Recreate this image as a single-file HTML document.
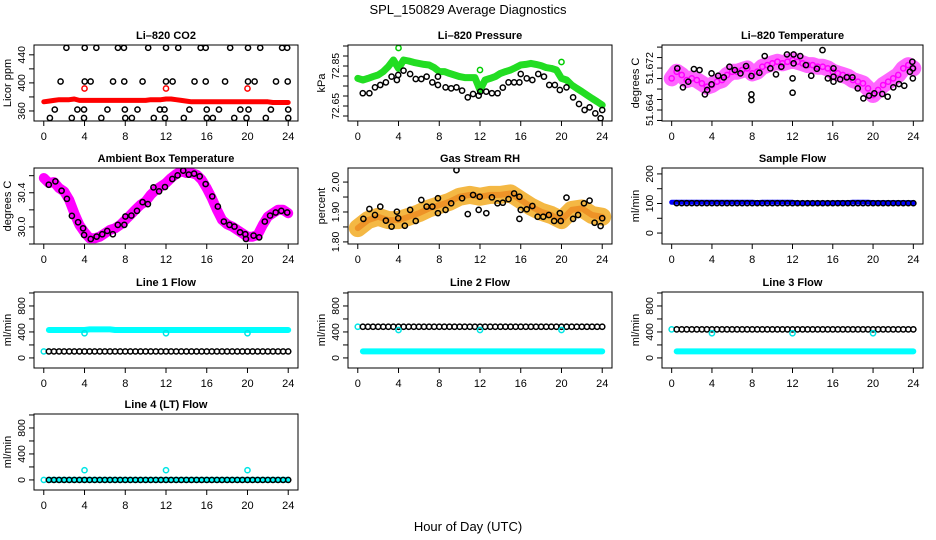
<!DOCTYPE html>
<html><head><meta charset="utf-8"><style>
html,body{margin:0;padding:0;background:#fff;}
svg{display:block;font-family:"Liberation Sans",sans-serif;}
</style></head><body>
<svg id="chart" width="936" height="540" viewBox="0 0 936 540" xmlns="http://www.w3.org/2000/svg">
<rect x="0" y="0" width="936" height="540" fill="#fff"/>
<text x="468" y="14" text-anchor="middle" font-size="13">SPL_150829  Average Diagnostics</text>
<text x="468" y="531" text-anchor="middle" font-size="13">Hour of Day (UTC)</text>
</svg>
<script>
const hoursHalf = [0,0.5,1,1.5,2,2.5,3,3.5,4,4.5,5,5.5,6,6.5,7,7.5,8,8.5,9,9.5,10,10.5,11,11.5,12,12.5,13,13.5,14,14.5,15,15.5,16,16.5,17,17.5,18,18.5,19,19.5,20,20.5,21,21.5,22,22.5,23,23.5,24];
const hoursHour = [0,1,2,3,4,5,6,7,8,9,10,11,12,13,14,15,16,17,18,19,20,21,22,23,24];
const xTicks = [0,4,8,12,16,20,24];

// CO2
const co2Red = [373,374,375,376,376,376,377,375,375,375,375,375,375,375,375,375,375,375,375,375,375,376,376,376,377,377,376,375,374,373,373,373,373,373,373,373,373,373,373,373,373,373,373,373,373,372,372,372,372];
const co2RedOutX = [4,12,20];
const co2RedOutY = [392,392,392];
const co2BlackX = [2.22,4.02,5.16,7.28,7.87,10.25,12.0,13.2,15.4,15.9,18.3,20.05,21.25,23.4,23.9, 1.65,4.02,4.6,6.8,7.9,9.7,12.0,12.65,14.8,15.9,17.8,20.05,20.7,22.8,23.95, 1.08,3.3,3.95,6.25,7.96,9.2,11.4,11.85,14.3,16.0,17.2,19.3,20.1,22.3,24.0, 0.6,2.75,3.95,5.65,8.0,8.65,10.8,11.9,13.75,16.0,16.6,18.7,19.9,21.8,24.0];
const co2BlackY = [450,450,450,450,450,450,450,450,450,450,450,450,450,450,450, 402,402,402,402,402,402,402,402,402,402,402,402,402,402,402, 362,362,362,362,362,362,362,362,362,362,362,362,362,362,362, 350,350,350,350,350,350,350,350,350,350,350,350,350,350,350];

// Pressure
const presGreen = [72.788,72.78,72.788,72.797,72.805,72.822,72.847,72.88,72.838,72.88,72.875,72.868,72.863,72.858,72.855,72.842,72.822,72.822,72.813,72.805,72.797,72.792,72.792,72.792,72.73,72.78,72.788,72.797,72.813,72.822,72.83,72.842,72.855,72.858,72.863,72.858,72.852,72.842,72.838,72.83,72.788,72.78,72.755,72.738,72.722,72.705,72.688,72.672,72.655];
const presGreenOutX = [4,20,12];
const presGreenOutY = [72.94,72.87,72.83];
const presBlackX = [0.49,1.14,1.69,2.21,2.76,3.32,3.84,3.97,4.49,5.14,5.69,6.24,6.76,7.32,7.87,7.87,8.62,9.17,9.69,10.24,10.8,11.32,11.87,12.03,12.61,13.17,13.73,14.24,14.8,15.35,15.87,16.0,16.59,17.14,17.72,18.28,18.8,19.35,19.84,20.49,21.14,21.72,22.27,22.76,23.32,23.84,24.0];
const presBlackY = [72.714,72.714,72.743,72.755,72.768,72.797,72.78,72.805,72.827,72.81,72.785,72.785,72.797,72.768,72.755,72.797,72.743,72.738,72.743,72.727,72.693,72.71,72.702,72.722,72.722,72.714,72.714,72.742,72.768,72.768,72.768,72.81,72.788,72.78,72.81,72.797,72.755,72.755,72.73,72.743,72.693,72.66,72.63,72.643,72.613,72.589,72.63];

// Li-820 temperature
const tempMag = [51.67003,51.6713,51.67067,51.66971,51.67003,51.66971,51.66908,51.66844,51.66876,51.6694,51.66971,51.67067,51.6713,51.6713,51.67162,51.67194,51.67098,51.6713,51.67225,51.67257,51.6729,51.6732,51.6729,51.6732,51.67352,51.6732,51.6729,51.67257,51.67257,51.67225,51.67225,51.67194,51.6713,51.67098,51.67067,51.67035,51.66971,51.6694,51.66908,51.66813,51.66686,51.66781,51.66876,51.6694,51.67003,51.67067,51.67194,51.67257,51.67194];
const tempBlackX = [0.56,1.12,1.65,2.21,2.77,3.3,3.53,3.96,3.96,4.62,5.18,5.74,6.27,6.83,7.39,7.92,7.92,7.92,8.71,9.24,9.8,10.36,10.89,11.45,12.01,12.01,12.11,12.11,12.77,13.33,13.86,14.42,14.98,15.51,16.07,16.07,16.07,16.73,17.39,17.95,18.48,19.04,19.6,20.13,20.92,21.45,22.01,22.57,23.1,23.66,23.9,23.95,23.95];
const tempBlackY = [51.67194,51.66832,51.6694,51.67181,51.67162,51.66698,51.66781,51.66889,51.67098,51.67054,51.67022,51.67225,51.67162,51.67098,51.67238,51.67048,51.66698,51.6659,51.6711,51.67429,51.67194,51.6708,51.67225,51.6746,51.67003,51.6673,51.6729,51.6746,51.67429,51.67257,51.67054,51.67187,51.67543,51.67003,51.67194,51.67035,51.6694,51.66984,51.67022,51.67022,51.66813,51.66622,51.66673,51.66717,51.66705,51.66654,51.66832,51.66895,51.66863,51.6713,51.6732,51.67194,51.67003];

// Ambient box temperature
const ambMag = [30.573,30.514,30.525,30.455,30.416,30.318,30.161,30.024,29.937,29.867,29.867,29.886,29.925,29.965,29.984,30.024,30.082,30.141,30.2,30.259,30.298,30.376,30.435,30.475,30.514,30.573,30.62,30.651,30.631,30.631,30.612,30.553,30.455,30.337,30.2,30.082,30.031,30.004,29.965,29.925,29.886,29.886,29.906,30.024,30.122,30.161,30.2,30.2,30.161];
const ambBlackX = [0.49,1.14,1.75,2.27,2.76,3.37,3.86,3.96,4.61,5.19,5.74,6.23,6.78,7.27,7.91,8.01,8.6,9.15,9.7,10.22,10.77,11.32,11.9,12.62,13.14,13.69,14.24,14.76,15.31,15.89,16.54,17.09,17.68,18.23,18.72,19.27,19.79,19.85,20.6,21.15,21.7,22.22,22.77,23.32,23.9];
const ambBlackY = [30.494,30.533,30.424,30.329,30.129,30.055,29.984,29.906,29.859,29.886,29.914,29.953,29.914,30.024,30.024,30.122,30.133,30.188,30.29,30.267,30.463,30.416,30.467,30.561,30.604,30.659,30.612,30.624,30.592,30.502,30.357,30.239,30.063,30.024,30.004,29.937,29.914,29.859,29.898,29.878,30.063,30.133,30.169,30.188,30.169];

// Gas stream RH
const rhOrange = [1.846,1.873,1.884,1.873,1.873,1.884,1.896,1.912,1.923,1.934,1.951,1.957,1.951,1.957,1.957,1.962,1.94,1.918,1.901,1.89,1.873,1.907,1.912,1.89,1.884];
const rhBlackX = [0.55,1.14,1.69,2.21,2.76,3.32,3.84,3.97,4.62,5.14,5.69,6.24,6.76,7.32,7.87,7.87,8.62,9.17,9.69,10.24,10.8,11.32,11.87,11.97,12.62,13.17,13.72,14.24,14.8,15.35,15.87,15.87,16.0,16.59,17.14,17.66,18.21,18.76,19.28,19.84,19.93,20.49,21.14,21.63,22.21,22.76,23.25,23.84,24.0];
const rhBlackY = [1.877,1.91,1.89,1.918,1.871,1.851,1.901,1.879,1.854,1.907,1.87,1.94,1.918,1.918,1.896,1.946,1.907,1.929,2.04,1.946,1.893,1.957,1.907,1.951,1.896,1.949,1.929,1.931,1.943,1.962,1.951,1.877,1.907,1.909,1.92,1.884,1.884,1.89,1.87,1.896,1.87,1.948,1.877,1.89,1.929,1.938,1.864,1.853,1.879];

// Sample flow
const sampleBlue = [104,104,104,104,104,104,104,104,104,104,104,104,104,104,104,104,104,103,104,104,104,104,104,104,104,102,102,102,102,102,102,102,102,103,103,103,104,104,104,104,103,103,103,103,103,103,103,103,103];
const sampleBlack = [101,101,101,101,101,101,101,101,101,101,101,101,101,101,101,101,101,101,101,101,101,101,101,101,101,101,101,101,101,101,101,101,101,101,101,101,101,101,101,101,101,101,101,101,101,101,101,101,101];

// Line flows
const line1Cyan = [100,430,430,430,430,430,430,430,430,440,440,440,440,440,430,430,430,430,430,430,430,430,430,430,430,430,430,430,430,430,430,430,430,430,430,430,430,430,430,430,430,430,430,430,430,430,430,430,430];
const line1Black = [100,100,100,100,100,100,100,100,100,100,100,100,100,100,100,100,100,100,100,100,100,100,100,100,100,100,100,100,100,100,100,100,100,100,100,100,100,100,100,100,100,100,100,100,100,100,100,100,100];
const line1OutX = [4,12,20];
const line1OutY = [380,380,380];
const line2Cyan = [480,100,100,100,100,100,100,100,100,100,100,100,100,100,100,100,100,100,100,100,100,100,100,100,100,100,100,100,100,100,100,100,100,100,100,100,100,100,100,100,100,100,100,100,100,100,100,100,100];
const line2Black = [480,480,480,480,480,480,480,480,480,480,480,480,480,480,480,480,480,480,480,480,480,480,480,480,480,480,480,480,480,480,480,480,480,480,480,480,480,480,480,480,480,480,480,480,480,480,480,480,480];
const line2OutX = [4,12,20];
const line2OutY = [430,430,430];
const line3Cyan = [440,100,100,100,100,100,100,100,100,100,100,100,100,100,100,100,100,100,100,100,100,100,100,100,100,100,100,100,100,100,100,100,100,100,100,100,100,100,100,100,100,100,100,100,100,100,100,100,100];
const line3Black = [440,440,440,440,440,440,440,440,440,440,440,440,440,440,440,440,440,440,440,440,440,440,440,440,440,440,440,440,440,440,440,440,440,440,440,440,440,440,440,440,440,440,440,440,440,440,440,440,440];
const line3OutX = [4,12,20];
const line3OutY = [380,380,380];
const line4Cyan = [0,0,0,0,0,0,0,0,0,0,0,0,0,0,0,0,0,0,0,0,0,0,0,0,0,0,0,0,0,0,0,0,0,0,0,0,0,0,0,0,0,0,0,0,0,0,0,0,0];
const line4Black = [0,0,0,0,0,0,0,0,0,0,0,0,0,0,0,0,0,0,0,0,0,0,0,0,0,0,0,0,0,0,0,0,0,0,0,0,0,0,0,0,0,0,0,0,0,0,0,0,0];
const line4OutX = [4,12,20];
const line4OutY = [150,150,150];

const co2Ticks = [360,380,400,420,440], co2Labels = [360,400,440];
const presTicks = [72.6,72.65,72.7,72.75,72.8,72.85,72.9,72.95], presLabels = [72.65,72.85];
const tempTicks = [51.662,51.664,51.666,51.668,51.670,51.672,51.674,51.676], tempLabels = [51.664,51.672];
const ambTicks = [29.8,30.0,30.2,30.4,30.6], ambLabels = [30.0,30.4];
const rhTicks = [1.80,1.85,1.90,1.95,2.00], rhLabels = [1.80,1.90,2.00];
const sampleTicks = [0,50,100,150,200], sampleLabels = [0,100,200];
const flowTicks = [0,200,400,600,800,1000], flowLabels = [0,400,800];

const NS = 'http://www.w3.org/2000/svg';
const svg = document.getElementById('chart');
const cols = [[34,298],[348,612],[662,923]];
const rowsTop = [45,168,292,414];
const BOXH = 76;

function mk(tag, attrs, parent) {
  const e = document.createElementNS(NS, tag);
  for (const k in attrs) e.setAttribute(k, attrs[k]);
  (parent || svg).appendChild(e);
  return e;
}
function fmt(v, dec) { return dec == null ? String(v) : v.toFixed(dec); }

function panel(name, col, row, title, ylab, ymin, ymax, ticks, labels, dec) {
  const [x0, x1] = cols[col];
  const y0 = rowsTop[row], y1 = y0 + BOXH;
  const g = mk('g', {});
  
  
  const sx = h => x0 + (h + 0.96) / 25.92 * (x1 - x0);
  const sy = v => y1 - (v - ymin) / (ymax - ymin) * BOXH;
  const clip = mk('clipPath', {id: 'clip-' + name}, g);
  mk('rect', {x: x0, y: y0, width: x1 - x0, height: BOXH}, clip);
  const plot = mk('g', {'clip-path': 'url(#clip-' + name + ')'}, g);
  
  
  const box = mk('rect', {x: x0, y: y0, width: x1 - x0, height: BOXH, fill: 'none', stroke: '#000', 'stroke-width': 1}, g);
  
  
  const t = mk('text', {x: (x0 + x1) / 2, y: y0 - 6, 'text-anchor': 'middle', 'font-size': 11, 'font-weight': 'bold'}, g);
  t.textContent = title;
  
  
  const xa = mk('line', {x1: sx(0), x2: sx(24), y1: y1, y2: y1, stroke: '#000'}, g);
  
  
  xTicks.forEach(h => {
    mk('line', {x1: sx(h), x2: sx(h), y1: y1, y2: y1 + 5, stroke: '#000'}, g);
    const l = mk('text', {x: sx(h), y: y1 + 19, 'text-anchor': 'middle', 'font-size': 11}, g);
    l.textContent = h;
    
    
  });
  const ya = mk('line', {x1: x0, x2: x0, y1: sy(ticks[0]), y2: sy(ticks[ticks.length - 1]), stroke: '#000'}, g);
  
  
  ticks.forEach(v => mk('line', {x1: x0 - 5, x2: x0, y1: sy(v), y2: sy(v), stroke: '#000'}, g));
  labels.forEach(v => {
    const yy = sy(v);
    const l = mk('text', {x: x0 - 9, y: yy, 'text-anchor': 'middle', 'font-size': 10.5, transform: 'rotate(-90 ' + (x0 - 9) + ' ' + yy + ')'}, g);
    l.textContent = fmt(v, dec);
    
    
  });
  const yl = (y0 + y1) / 2;
  const ylt = mk('text', {x: x0 - 23, y: yl, 'text-anchor': 'middle', 'font-size': 11, transform: 'rotate(-90 ' + (x0 - 23) + ' ' + yl + ')'}, g);
  ylt.textContent = ylab;
  
  
  return {sx, sy, plot};
}

function band(p, xs, ys, color, width, name, op) {
  const d = xs.map((h, i) => (i ? 'L' : 'M') + p.sx(h).toFixed(1) + ' ' + p.sy(ys[i]).toFixed(1)).join(' ');
  const path = mk('path', {d: d, fill: 'none', stroke: color, 'stroke-width': width, 'stroke-linejoin': 'round', 'stroke-linecap': 'round', 'stroke-opacity': op || 1}, p.plot);
  
  
}
function points(p, xs, ys, color, name, r, fill) {
  xs.forEach((h, i) => {
    const c = mk('circle', {cx: p.sx(h), cy: p.sy(ys[i]), r: r || 2.6, fill: fill || 'none', stroke: color, 'stroke-width': 1.5}, p.plot);
    
    
  });
}

let p;
p = panel('co2', 0, 0, 'Li\u2013820 CO2', 'Licor ppm', 345.7, 454, co2Ticks, co2Labels);
band(p, hoursHalf, co2Red, '#f00', 5, 'co2-red-series');
points(p, co2RedOutX, co2RedOutY, '#f00', 'co2-red-outlier');
points(p, co2BlackX, co2BlackY, '#000', 'co2-black-point');

p = panel('pressure', 1, 0, 'Li\u2013820 Pressure', 'kPa', 72.575, 72.955, presTicks, presLabels, 2);
band(p, hoursHalf, presGreen, '#22dd22', 7, 'pressure-green-series');
points(p, presGreenOutX, presGreenOutY, '#00cc00', 'pressure-green-outlier');
points(p, presBlackX, presBlackY, '#000', 'pressure-black-point');

p = panel('temperature', 2, 0, 'Li\u2013820 Temperature', 'degrees C', 51.6619, 51.6764, tempTicks, tempLabels, 3);
band(p, hoursHalf, tempMag, '#ff33ff', 16, 'temperature-magenta-series', 0.75);
points(p, hoursHalf, tempMag, '#ff00ff', 'temperature-magenta-point');
points(p, tempBlackX, tempBlackY, '#000', 'temperature-black-point');

p = panel('ambient', 0, 1, 'Ambient Box Temperature', 'degrees C', 29.8, 30.69, ambTicks, ambLabels, 1);
band(p, hoursHalf, ambMag, '#ff00ff', 10, 'ambient-magenta-series');
points(p, ambBlackX, ambBlackY, '#000', 'ambient-black-point');

p = panel('rh', 1, 1, 'Gas Stream RH', 'percent', 1.793, 2.047, rhTicks, rhLabels, 2);
band(p, hoursHour, rhOrange, '#f3b030', 18, 'rh-orange-series', 0.9);
band(p, hoursHour, rhOrange, '#ec8a20', 6, 'rh-orange-core', 0.8);
points(p, rhBlackX, rhBlackY, '#000', 'rh-black-point');

p = panel('sample-flow', 2, 1, 'Sample Flow', 'ml/min', -37, 220, sampleTicks, sampleLabels);
band(p, hoursHalf, sampleBlue, '#0000ff', 5, 'sample-blue-series');
points(p, hoursHalf.slice(1), sampleBlack.slice(1), '#000', 'sample-black-point');

const flows = [
  ['line1', 0, 2, 'Line 1 Flow', line1Cyan, line1Black, line1OutX, line1OutY],
  ['line2', 1, 2, 'Line 2 Flow', line2Cyan, line2Black, line2OutX, line2OutY],
  ['line3', 2, 2, 'Line 3 Flow', line3Cyan, line3Black, line3OutX, line3OutY],
  ['line4', 0, 3, 'Line 4 (LT) Flow', line4Cyan, line4Black, line4OutX, line4OutY]
];
flows.forEach(f => {
  const q = panel(f[0], f[1], f[2], f[3], 'ml/min', -155, 1015, flowTicks, flowLabels);
  band(q, hoursHalf.slice(1), f[4].slice(1), '#00ffff', 6, f[0] + '-cyan-series');
  points(q, [0], [f[4][0]], '#00e5e5', f[0] + '-cyan-point');
  points(q, hoursHalf.slice(1), f[5].slice(1), '#000', f[0] + '-black-point');
  points(q, f[6], f[7], '#00e5e5', f[0] + '-cyan-outlier');
});
</script>
</body></html>
